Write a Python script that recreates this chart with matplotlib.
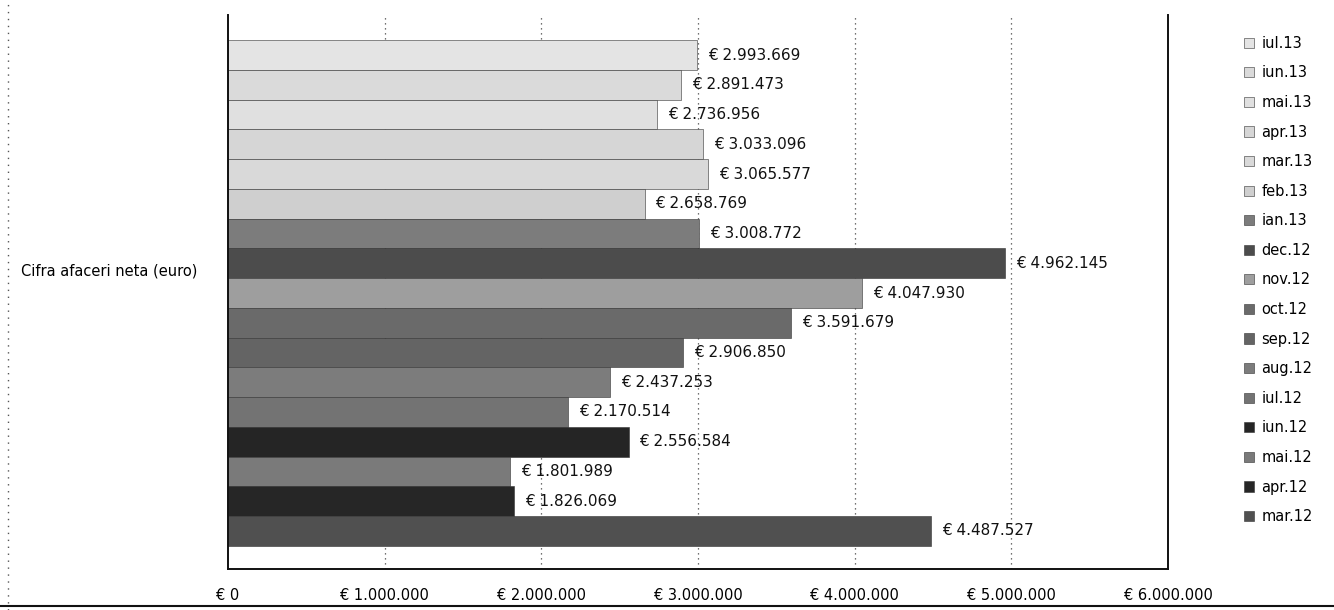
"""
Cifra afaceri neta (euro) - monthly values as horizontal bars, grey shades.
"""

import matplotlib
matplotlib.use("Agg")
import matplotlib.pyplot as plt
from matplotlib.lines import Line2D
from matplotlib.patches import Patch

# series from top (latest) to bottom (oldest), as they appear in the chart
months = [
    "iul.13", "iun.13", "mai.13", "apr.13", "mar.13", "feb.13", "ian.13",
    "dec.12", "nov.12", "oct.12", "sep.12", "aug.12", "iul.12", "iun.12",
    "mai.12", "apr.12", "mar.12",
]

values = [
    2993669, 2891473, 2736956, 3033096, 3065577, 2658769, 3008772,
    4962145, 4047930, 3591679, 2906850, 2437253, 2170514, 2556584,
    1801989, 1826069, 4487527,
]

shades = [
    "#e4e4e4", "#dadada", "#e0e0e0", "#d6d6d6", "#d9d9d9", "#cfcfcf", "#7c7c7c",
    "#4c4c4c", "#9e9e9e", "#6a6a6a", "#646464", "#7c7c7c", "#737373", "#252525",
    "#7a7a7a", "#262626", "#505050",
]

x_ticks = [0, 1000000, 2000000, 3000000, 4000000, 5000000, 6000000]
category = "Cifra afaceri neta (euro)"


def euro(v):
    return "€ " + f"{v:,}".replace(",", ".")


fig = plt.figure(figsize=(13.34, 6.10), dpi=100)
ax = fig.add_axes([228 / 1334, 1 - 569 / 610, (1168 - 228) / 1334, (569 - 15) / 610])

n = len(months)
for i, (m, v, c) in enumerate(zip(months, values, shades)):
    y = n - 1 - i
    ax.barh(y, v, height=1.0, color=c, edgecolor="#333333", linewidth=0.4)
    ax.text(v + 70000, y, euro(v), va="center", ha="left", fontsize=11, color="#111111")

ax.set_xlim(0, 6000000)
ax.set_ylim(-1.28, 17.35)
ax.set_xticks(x_ticks)
ax.set_xticklabels([euro(t) for t in x_ticks], fontsize=10.5)
ax.tick_params(axis="x", length=0, pad=14)
ax.set_yticks([8.8])
ax.set_yticklabels([category], fontsize=10.5)
ax.tick_params(axis="y", length=0, pad=22)

for t in x_ticks[1:-1]:
    ax.axvline(t, color="#444444", linestyle=(0, (1, 3)), linewidth=0.9, zorder=0)

ax.spines["top"].set_visible(False)
for s in ("left", "bottom", "right"):
    ax.spines[s].set_linewidth(1.4)
    ax.spines[s].set_color("#111111")

handles = [Patch(facecolor=c, edgecolor="#333333", linewidth=0.4) for c in shades]
fig.legend(handles, months, loc="upper left", bbox_to_anchor=(1238 / 1334, 1 - 30 / 610),
           frameon=False, fontsize=10.5, handlelength=0.7, handleheight=0.7,
           handletextpad=0.5, labelspacing=1.0, borderaxespad=0)

# outer chart border remnants from the scan
fig.add_artist(Line2D([8 / 1334, 8 / 1334], [0.0, 1.0], color="#555555",
                      linestyle=(0, (1, 4)), linewidth=1))
fig.add_artist(Line2D([0.0, 1.0], [1 - 606 / 610, 1 - 606 / 610], color="#111111",
                      linewidth=1.5))

fig.savefig("out.png", dpi=100)
